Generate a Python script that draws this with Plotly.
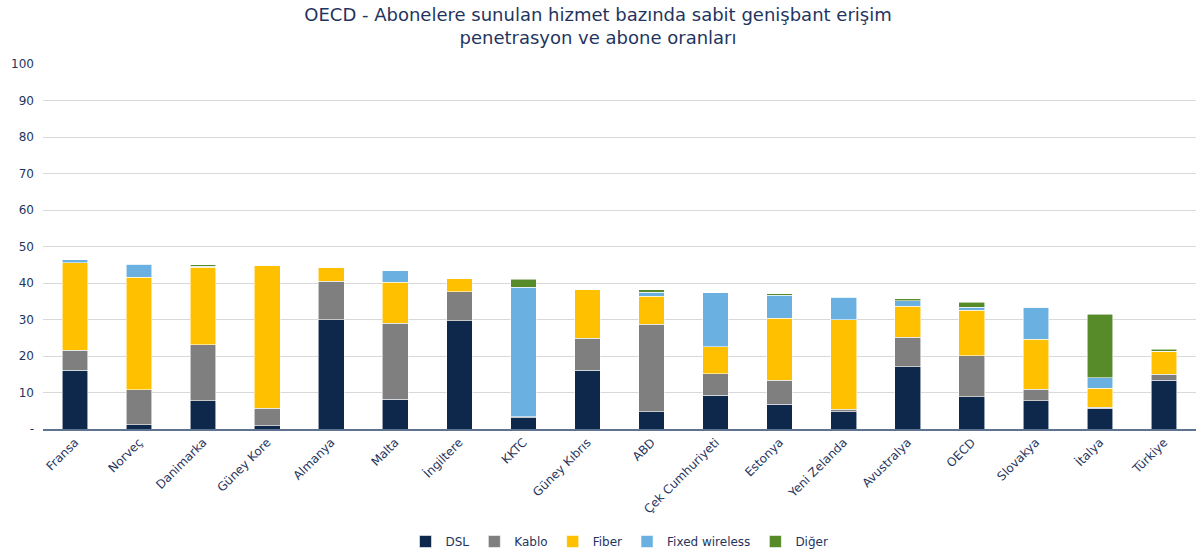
import plotly.graph_objects as go

categories = ["Fransa", "Norveç", "Danimarka", "Güney Kore", "Almanya", "Malta", "İngiltere",
              "KKTC", "Güney Kıbrıs", "ABD", "Çek Cumhuriyeti", "Estonya", "Yeni Zelanda",
              "Avustralya", "OECD", "Slovakya", "İtalya", "Türkiye"]

dsl =      [16.1, 1.1, 7.7, 0.9, 30.0, 8.2, 29.6, 3.1, 16.1, 4.7, 9.3, 6.8, 4.7, 17.1, 8.8, 7.7, 5.7, 13.3]
kablo =    [5.5, 9.7, 15.4, 4.8, 10.5, 20.8, 8.0, 0.2, 8.7, 24.0, 5.8, 6.6, 0.7, 8.0, 11.3, 3.2, 0.2, 1.7]
fiber =    [24.0, 30.8, 21.2, 39.1, 3.8, 11.2, 3.6, 0.1, 13.4, 7.7, 7.4, 16.9, 24.5, 8.6, 12.5, 13.7, 5.2, 6.2]
wireless = [0.8, 3.5, 0.3, 0.0, 0.0, 3.2, 0.0, 35.4, 0.0, 1.1, 14.8, 6.4, 6.2, 1.4, 0.8, 8.8, 3.0, 0.1]
diger =    [0.0, 0.2, 0.4, 0.0, 0.0, 0.0, 0.0, 2.2, 0.0, 0.7, 0.0, 0.3, 0.2, 0.6, 1.3, 0.0, 17.4, 0.6]

series = [("DSL", dsl, "#0e284b"), ("Kablo", kablo, "#7f7f7f"), ("Fiber", fiber, "#ffc000"),
          ("Fixed wireless", wireless, "#6ab1e2"), ("Diğer", diger, "#578b29")]

y_ticks = [0, 10, 20, 30, 40, 50, 60, 70, 80, 90, 100]
y_labels = ["-", "10", "20", "30", "40", "50", "60", "70", "80", "90", "100"]

navy = "#1f3560"
font = "DejaVu Sans"

fig = go.Figure()
for name, vals, color in series:
    fig.add_trace(go.Bar(name=name, x=categories, y=vals,
                         marker=dict(color=color, line=dict(color="rgba(255,255,255,0.7)", width=0.8))))

fig.update_layout(
    barmode="stack",
    bargap=0.6,
    width=1196, height=556,
    margin=dict(l=43, r=0, t=64, b=127),
    paper_bgcolor="white", plot_bgcolor="white",
    title=dict(text="OECD - Abonelere sunulan hizmet bazında sabit genişbant erişim<br>penetrasyon ve abone oranları",
               x=0.5, xanchor="center", y=0.963, yanchor="top",
               font=dict(family=font, size=18, color=navy)),
    font=dict(family=font, color=navy, size=12),
    legend=dict(orientation="h", x=0.5, xanchor="center", y=-0.31, yanchor="middle",
                font=dict(family=font, size=12, color=navy), traceorder="normal",
                itemwidth=30, borderwidth=0),
    showlegend=True,
)
fig.update_xaxes(tickangle=-45, tickfont=dict(family=font, size=12, color=navy),
                 showline=True, linecolor="#5f7390", linewidth=1.5, ticks="", showgrid=False,
                 automargin=False)
fig.update_yaxes(range=[0, 100], tickvals=y_ticks, ticktext=y_labels,
                 tickfont=dict(family=font, size=12, color=navy), ticklabelstandoff=8,
                 showgrid=True, gridcolor="#d9d9d9", gridwidth=1, zeroline=False, ticks="",
                 automargin=False)

fig.write_html("out.html", config={"displayModeBar": False},
               post_script="document.body.style.margin='0';document.body.style.overflow='hidden';")
